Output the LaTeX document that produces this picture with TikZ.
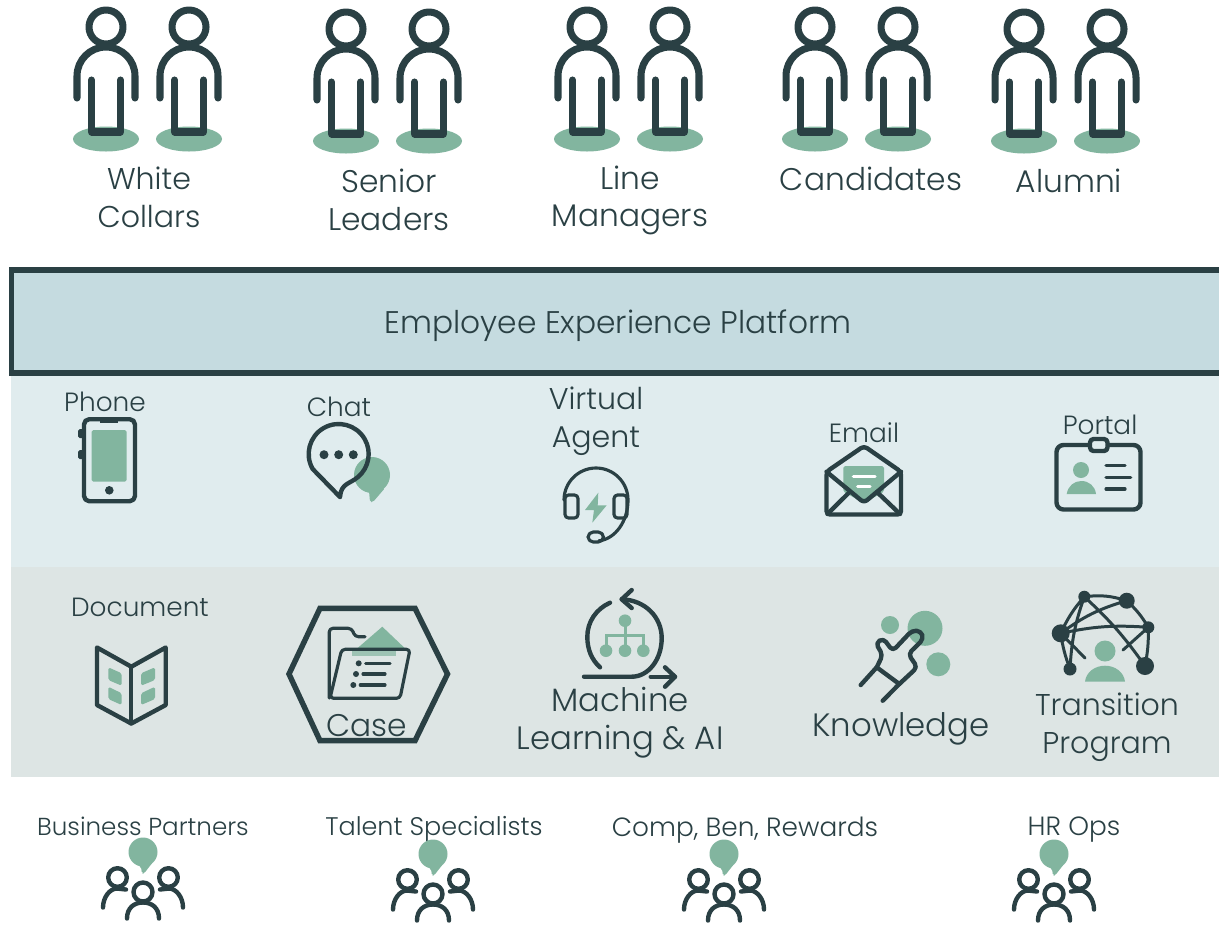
\documentclass[tikz,border=0pt]{standalone}
\usepackage{fontspec}
\setmainfont{Poppins Light}
\definecolor{inkdark}{HTML}{2A4044}
\definecolor{leaf}{HTML}{82B59F}
\definecolor{platformblue}{HTML}{C5DBE0}
\definecolor{channelblue}{HTML}{E0ECEE}
\definecolor{servicegrey}{HTML}{DDE5E4}
\tikzset{
  biglabel/.style={text=inkdark, align=center, inner sep=0pt, font=\fontsize{17.8}{21.5}\selectfont},
  widelabel/.style={biglabel, font=\fontsize{18.4}{21.5}\selectfont},
  narrowlabel/.style={biglabel, font=\fontsize{17.1}{21.5}\selectfont},
  smalllabel/.style={text=inkdark, align=center, inner sep=0pt, font=\fontsize{15}{18}\selectfont},
  iconline/.style={draw=inkdark, line width=2.5pt, line cap=round, line join=round},
  thinline/.style={draw=inkdark, line width=1.8pt, line cap=round, line join=round},
  pics/worker/.style={code={
    \fill [leaf] (0,112) ellipse (33 and 12.5);
    \draw [draw=inkdark, line width=4pt, line cap=round, line join=round] (0,0) circle (17);
    \draw [draw=inkdark, line width=4pt, line cap=round, line join=round] (-29,71) -- (-29,49) arc (180:360:29) -- (29,71);
    \draw [draw=inkdark, line width=4pt, line cap=round, line join=round] (-14.5,53) -- (-14.5,105) -- (14.5,105) -- (14.5,53);
  }},
  pics/team/.style={code={
    \fill [leaf, rounded corners=1pt] (-12,8) -- (-2,15) -- (-1,21.5) -- (1,21.5) -- (10,10) -- cycle;
    \fill [leaf] (0,0) circle (14.5);
    \draw [iconline] (0,40) circle (9.5);
    \draw [iconline] (-16,66.5) .. controls (-16,56) and (-9,50.5) .. (0,50.5) .. controls (9,50.5) and (16,56) .. (16,66.5);
    \draw [iconline] (-25.5,25.5) circle (9.3);
    \draw [iconline] (-40,55.5) .. controls (-40,45) and (-33,36.5) .. (-26,36.5) -- (-17,37.5);
    \draw [iconline] (25.5,25.5) circle (9.3);
    \draw [iconline] (40,55.5) .. controls (40,45) and (33,36.5) .. (26,36.5) -- (17,37.5);
  }},
}

\begin{document}
\begin{tikzpicture}[x=0.02cm, y=-0.02cm]

      \clip (0,0) rectangle (1219,924);
      \fill [white] (0,0) rectangle (1219,924);

      % user groups
      \foreach \px/\py in {106/27, 189/27, 346/29, 429/29, 587/27, 670/27, 815/27, 898/27, 1024/29, 1107/29}
        \pic at (\px,\py) {worker};

      \draw (149,197.5) node[narrowlabel] (whitecollars) {White\\Collars};
      \draw (389,199.5) node[biglabel] (seniorleaders) {Senior\\Leaders};
      \draw (630,200.5) node[biglabel] (linemanagers) {Line\\Managers};
      \draw (871,178.5) node[biglabel] (candidates) {Candidates};
      \draw (1069,180.5) node[biglabel] (alumni) {Alumni};

      % bands
      \draw [draw=inkdark, fill=platformblue, line width=3pt] (11.5,270) rectangle (1240,373);
      \draw (618,326) node[biglabel] (platform) {Employee Experience Platform};
      \fill [channelblue] (11,376) rectangle (1219,567);
      \fill [servicegrey] (11,567) rectangle (1219,777);

      % phone
      \draw (105,402) node[smalllabel] (phone) {Phone};
      \fill [leaf, rounded corners=1pt] (91.7,430) rectangle (126.7,481.7);
      \fill [inkdark, rounded corners=1pt] (78,429) rectangle (84,438);
      \fill [inkdark, rounded corners=1pt] (78,450) rectangle (84,459);
      \draw [iconline, rounded corners=3pt] (84,419.2) rectangle (135,501.2);
      \fill [inkdark] (100,418) rectangle (118,423);
      \fill [inkdark] (109.3,490.3) circle (4.3);

      % chat
      \draw (339,407) node[smalllabel] (chat) {Chat};
      \fill [leaf, rounded corners=1pt] (358,487) -- (369,491) -- (370,502) -- (373,502) -- (385,488) -- cycle;
      \fill [leaf] (372,475) circle (18);
      \draw [iconline] (340,497) -- (312.7,469) arc (150:410:30) .. controls (350,484) and (341,483) .. (340,497);
      \foreach \dotx in {324, 338.7, 353.3}
        \fill [inkdark] (\dotx,454.7) circle (4.5);

      % virtual agent
      \draw (596,421) node[narrowlabel] (virtualagent) {Virtual\\Agent};
      \fill [leaf] (598.3,492.7) -- (585,510) -- (594,510) -- (592.3,522.7) -- (606.7,505.3) -- (597.7,505.3) -- cycle;
      \draw [thinline] (564,500) arc (180:360:32) arc [start angle=0, end angle=85, x radius=32, y radius=41];
      \draw [thinline, rounded corners=2pt] (565,495) -- (578,495) -- (578,518) -- (565,518) -- cycle;
      \draw [thinline, rounded corners=2pt] (614,495) -- (627,495) -- (627,518) -- (614,518) -- cycle;
      \draw [thinline, rounded corners=3pt] (588,542) -- (588,532) -- (603.5,532) -- (603.5,542) -- cycle;

      % email
      \draw (864,433) node[smalllabel] (email) {Email};
      \fill [leaf, rounded corners=1pt] (843.3,466) -- (884,466) -- (884,491.7) -- (864,503) -- (843.3,491.7) -- cycle;
      \draw [draw=white, line width=1.8pt, line cap=round] (853.3,476.7) -- (875,476.7);
      \draw [draw=white, line width=1.8pt, line cap=round] (857.7,486.7) -- (870,486.7);
      \draw [iconline, rounded corners=2pt] (826.5,471.7) -- (864,446) -- (901,471.7) -- (901,514.5) -- (826.5,514.5) -- cycle;
      \draw [iconline, rounded corners=2pt] (826.5,471.7) -- (864,502.7) -- (901,471.7);
      \draw [iconline] (827.5,514) -- (848.3,493.3);
      \draw [iconline] (900,514) -- (878.3,493.3);

      % portal
      \draw (1100,425) node[smalllabel] (portal) {Portal};
      \draw [iconline, rounded corners=4pt] (1056.5,445) rectangle (1140.5,509.5);
      \draw [iconline, fill=channelblue, rounded corners=2pt] (1090,439) rectangle (1107.5,451);
      \fill [leaf] (1081,470) circle (8);
      \fill [leaf] (1066.7,494) .. controls (1068,486) and (1074,481) .. (1081.3,481) .. controls (1089,481) and (1095,486) .. (1096,494) -- cycle;
      \draw [thinline] (1106,465.7) -- (1125,465.7);
      \draw [thinline] (1106,477.3) -- (1130.7,477.3);
      \draw [thinline] (1106,489) -- (1125,489);

      % document
      \draw (140,607) node[smalllabel] (document) {Document};
      \fill [leaf, rounded corners=1pt] (108.3,667.3) -- (121.7,673.3) -- (121.7,685.7) -- (108.3,680) -- cycle;
      \fill [leaf, rounded corners=1pt] (108.3,686.7) -- (121.7,693.3) -- (121.7,705) -- (108.3,699) -- cycle;
      \fill [leaf, rounded corners=1pt] (141,673.3) -- (155,667.3) -- (155,680) -- (141,685.7) -- cycle;
      \fill [leaf, rounded corners=1pt] (141,693.3) -- (155,686.7) -- (155,699) -- (141,705) -- cycle;
      \draw [iconline] (97,647.5) -- (131.3,666.7) -- (165.7,647.5) -- (165.7,705) -- (131.3,723.5) -- (97,705) -- cycle;
      \draw [iconline] (131.3,666.7) -- (131.3,723.5);

      % case
      \draw [draw=inkdark, line width=3.1pt, line join=miter] (320,608.3) -- (415,608.3) -- (447.5,674) -- (415,740.7) -- (320,740.7) -- (289,674) -- cycle;
      \fill [leaf] (382.3,626.7) -- (405,648.3) -- (357.3,648.3) -- cycle;
      \fill [leaf!70!servicegrey] (352.3,649) rectangle (395.7,656);
      \draw [thinline, rounded corners=2pt] (329.3,698) -- (329.3,628.3) -- (351.7,628.3) -- (355,636.7) -- (365,636.7);
      \draw [thinline, rounded corners=2pt] (341.7,649.3) -- (410,649.3) -- (400,698.3) -- (330,698.3) -- cycle;
      \foreach \rowx/\rowy/\rowend in {358.7/663.3/390, 356/674/385, 353.3/685/385} {
        \fill [inkdark] (\rowx,\rowy) circle (3);
        \draw [thinline] (\rowx+7,\rowy) -- (\rowend,\rowy);
      }
      \draw (367,726) node[biglabel] (case) {Case};

      % machine learning
      \draw [draw=leaf, line width=1.7pt] (625,620.7) -- (625,650.7);
      \draw [draw=leaf, line width=1.7pt] (606,650.7) -- (606,635) -- (643.3,635) -- (643.3,650.7);
      \fill [leaf] (625,620.7) circle (6.3);
      \foreach \leafx in {606, 625, 643.3}
        \fill [leaf] (\leafx,650.7) circle (6.3);
      \draw [iconline] (631.7,590) -- (621.7,599.3) -- (631.7,608);
      \draw [iconline] (621.7,599.3) .. controls (645,600) and (661.7,617) .. (661.7,638) .. controls (661.7,660) and (648,676.7) .. (631.7,676.7) -- (584,676.7);
      \draw [iconline] (610,602.7) .. controls (596,609) and (587.3,622) .. (587.3,636.7) .. controls (587.3,650) and (592,660) .. (600,667.3);
      \draw [iconline] (650.7,676.7) -- (675,676.7);
      \draw [iconline] (665,667.3) -- (675,676.7) -- (665,686.7);
      \draw (620,722.5) node[widelabel] (machinelearning) {Machine\\Learning \& AI};

      % knowledge
      \fill [leaf] (925,628.3) circle (17.5);
      \fill [leaf] (890,625) circle (9);
      \fill [leaf] (938.3,664.3) circle (12);
      \draw [iconline] (860.7,685) -- (876.7,667.3) -- (899.3,684);
      \draw [iconline] (882.7,700.7) -- (899.3,684);
      \draw [iconline, rounded corners=2.5pt] (876.7,667.3) -- (882.7,655) -- (875.7,643) -- (883.3,638.3) -- (892.7,651) -- (912,630.5) -- (921,631) -- (923.5,639) -- (908.3,654) -- (917.3,667.3) -- (899.3,684);
      \draw (901,729) node[widelabel] (knowledge) {Knowledge};

      % transition program
      \draw [draw=inkdark, line width=1.7pt, line cap=round]
        (1084.3,596.7) to[bend left=12] (1126.7,600.7)
        (1084.3,596.7) to[bend right=8] (1060.7,633.3)
        (1084.3,596.7) to[bend right=8] (1070,669)
        (1084.3,596.7) to[bend left=6] (1145,666)
        (1126.7,600.7) to[bend right=10] (1060.7,633.3)
        (1126.7,600.7) to[bend left=8] (1148.3,627.3)
        (1060.7,633.3) to[bend left=8] (1148.3,627.3)
        (1060.7,633.3) to[bend right=6] (1070,669)
        (1060.7,633.3) -- (1085,658)
        (1148.3,627.3) -- (1123,650)
        (1148.3,627.3) to[bend left=6] (1145,666);
      \foreach \netx/\nety/\netr in {1084.3/596.7/6, 1126.7/600.7/8, 1148.3/627.3/6, 1060.7/633.3/9, 1070/669/6.5, 1145/666/9}
        \fill [inkdark] (\netx,\nety) circle (\netr);
      \fill [leaf] (1105,651) circle (10.5);
      \fill [leaf] (1085,681.7) .. controls (1086,672) and (1095,665.7) .. (1105,665.7) .. controls (1115,665.7) and (1124,672) .. (1125,681.7) -- cycle;
      \draw (1107,727) node[narrowlabel] (transition) {Transition\\Program};

      % hr teams
      \draw (143,826) node[smalllabel, font=\fontsize{14}{18}\selectfont] (partners) {Business Partners};
      \draw (434,829) node[smalllabel, font=\fontsize{14.5}{18}\selectfont] (specialists) {Talent Specialists};
      \draw (745,830) node[smalllabel] (rewards) {Comp, Ben, Rewards};
      \draw (1074,830) node[smalllabel] (hrops) {HR Ops};
      \foreach \tx/\ty in {143/852, 433/854, 724/854, 1054/854}
        \pic at (\tx,\ty) {team};

    \end{tikzpicture}
\end{document}
